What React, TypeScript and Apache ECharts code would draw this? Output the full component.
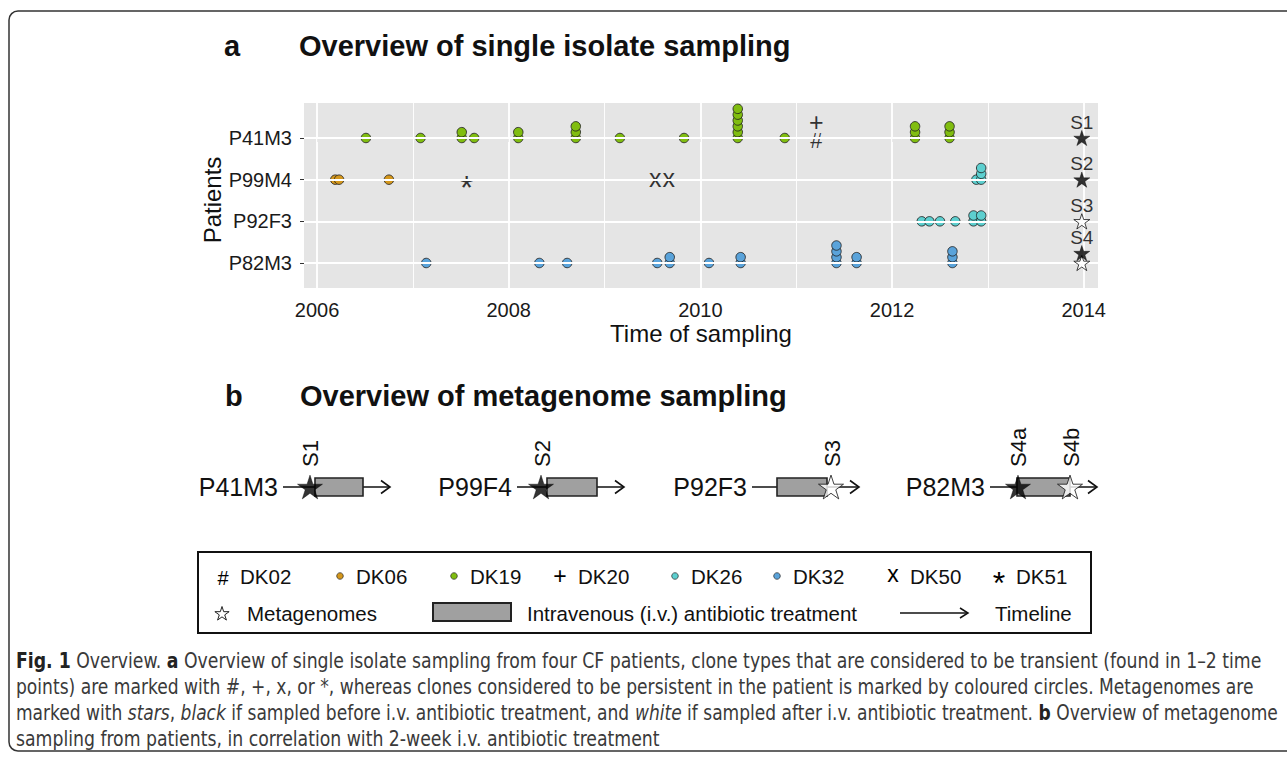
import React, { useEffect, useRef } from "react";
import * as echarts from "echarts";

// ---------------- Panel a data ----------------
const patientsA = ["P41M3", "P99M4", "P92F3", "P82M3"];
const yearTicks = [2006, 2008, 2010, 2012, 2014];
const yearMinor = [2007, 2009, 2011, 2013];

// persistent clones: [year, patient index, number of isolates at that time]
const dk19 = [
  [2006.51, 0, 1], [2007.08, 0, 1], [2007.51, 0, 2], [2007.64, 0, 1], [2008.1, 0, 2], [2008.7, 0, 3],
  [2009.16, 0, 1], [2009.83, 0, 1], [2010.39, 0, 6], [2010.88, 0, 1], [2012.24, 0, 3], [2012.6, 0, 3],
];
const dk06 = [[2006.19, 1, 1], [2006.23, 1, 1], [2006.75, 1, 1]];
const dk26 = [
  [2012.88, 1, 1], [2012.93, 1, 3],
  [2012.31, 2, 1], [2012.39, 2, 1], [2012.5, 2, 1], [2012.66, 2, 1], [2012.85, 2, 2], [2012.93, 2, 2],
];
const dk32 = [
  [2007.14, 3, 1], [2008.32, 3, 1], [2008.61, 3, 1], [2009.55, 3, 1], [2009.68, 3, 2],
  [2010.09, 3, 1], [2010.42, 3, 2], [2011.42, 3, 4], [2011.63, 3, 2], [2012.63, 3, 3],
];
// transient clones: [year, patient index, stack level]
const dk02 = [[2011.21, 0, 0]];
const dk20 = [[2011.21, 0, 2.7]];
const dk50 = [[2009.53, 1, 0], [2009.67, 1, 0]];
const dk51 = [[2007.56, 1, 0]];
// metagenomes: [year, patient index, stack level]
const metaA = [[2013.98, 0, 0], [2013.98, 1, 0], [2013.98, 2, 0], [2013.98, 3, 0], [2013.98, 3, 1.7]];
const metaALabels = ["S1", "S2", "S3", "", "S4"];
const metaAFilled = [true, true, false, false, true];

// ---------------- Panel b data (days) ----------------
const patientsB = ["P41M3", "P99F4", "P92F3", "P82M3"];
const timelineSpan = [0, 30];
const treatmentB = [[8.97, 22.43], [8.41, 22.43], [7.01, 21.03], [7.57, 22.43]];
const samplesB = [[7.57], [6.73], [22.15], [7.85, 22.43]];
const samplesBLabels = [["S1"], ["S2"], ["S3"], ["S4a", "S4b"]];
const samplesBFilled = [[true], [true], [false], [true, false]];

// ---------------- Legend & texts ----------------
const legendClones = ["DK02", "DK06", "DK19", "DK20", "DK26", "DK32", "DK50", "DK51"];
const legendOther = ["Metagenomes", "Intravenous (i.v.) antibiotic treatment", "Timeline"];
const titleA = ["a", "Overview of single isolate sampling"];
const titleB = ["b", "Overview of metagenome sampling"];
const axisTitles = ["Time of sampling", "Patients"];
const captionLines = [
  "{b|Fig. 1} Overview. {b|a} Overview of single isolate sampling from four CF patients, clone types that are considered to be transient (found in 1–2 time",
  "points) are marked with #, +, x, or *, whereas clones considered to be persistent in the patient is marked by coloured circles. Metagenomes are",
  "marked with {i|stars}, {i|black} if sampled before i.v. antibiotic treatment, and {i|white} if sampled after i.v. antibiotic treatment. {b|b} Overview of metagenome",
  "sampling from patients, in correlation with 2-week i.v. antibiotic treatment",
];

// ---------------- Styles / layout ----------------
const FONT = "'Liberation Sans', Arial, Helvetica, sans-serif";
const STEP = 0.14;
const cloneColors: Record<string, string> = {
  DK06: "#D4971C", DK19: "#80BD10", DK26: "#5DCFCF", DK32: "#5AA3DA",
};
const cloneGlyphs: Record<string, { ch: string; size: number; dy: number }> = {
  DK02: { ch: "#", size: 22, dy: 2 },
  DK20: { ch: "+", size: 25, dy: 0 },
  DK50: { ch: "x", size: 25, dy: -2 },
  DK51: { ch: "*", size: 34, dy: 7 },
};
const legendMarkerX = [223, 340, 454, 560, 675, 777, 893, 999];
const legendLabelX = [240, 356, 470, 578, 691, 793, 910, 1016];
const gridLeftB = [283, 517, 752, 990];
const captionRight = [1262, 1254, 1278, 0];
const STAR =
  "path://M50,0 L61.23,34.55 L97.55,34.55 L68.17,55.9 L79.39,90.45 L50,69.1 L20.61,90.45 L31.83,55.9 L2.45,34.55 L38.77,34.55 Z";

function expand(arr: number[][]) {
  const out: number[][] = [];
  arr.forEach(([y, p, n]) => {
    for (let k = 0; k < n; k++) out.push([y, p - k * STEP]);
  });
  return out;
}

function pickCaptionFont() {
  const ctx = document.createElement("canvas").getContext("2d")!;
  const test = "abcdefghijklmnopqrstuvwxyz ABCDEFGHIJKLMNOPQRSTUVWXYZ 0123456789";
  ctx.font = "20px monospace";
  const base = ctx.measureText(test).width;
  for (const f of ["Liberation Sans Narrow", "DejaVu Sans Condensed", "Open Sans Condensed"]) {
    ctx.font = `20px '${f}', monospace`;
    if (Math.abs(ctx.measureText(test).width - base) > 1) return `'${f}', sans-serif`;
  }
  return "'Liberation Sans', sans-serif";
}

function measureRich(line: string, size: number, family: string) {
  const ctx = document.createElement("canvas").getContext("2d")!;
  const re = /\{(\w)\|([^}]*)\}/g;
  let w = 0;
  let last = 0;
  let m: RegExpExecArray | null;
  while ((m = re.exec(line))) {
    ctx.font = `${size}px ${family}`;
    w += ctx.measureText(line.slice(last, m.index)).width;
    ctx.font = `${m[1] === "b" ? "bold" : "italic"} ${size}px ${family}`;
    w += ctx.measureText(m[2]).width;
    last = re.lastIndex;
  }
  ctx.font = `${size}px ${family}`;
  w += ctx.measureText(line.slice(last)).width;
  return w;
}

function starPoints(cx: number, cy: number, R: number) {
  const pts: number[][] = [];
  for (let k = 0; k < 10; k++) {
    const a = (-90 + 36 * k) * (Math.PI / 180);
    const r = k % 2 === 0 ? R : R * 0.382;
    pts.push([cx + r * Math.cos(a), cy + r * Math.sin(a)]);
  }
  return pts;
}

export default function App() {
  const ref = useRef<HTMLDivElement>(null);

  useEffect(() => {
    document.body.style.margin = "0";
    const chart = echarts.init(ref.current!, null, { renderer: "svg" });

    const grids: any[] = [
      { left: 304, top: 103, width: 794, height: 185, show: true, backgroundColor: "#E5E5E5", borderWidth: 0 },
    ];
    const xAxes: any[] = [
      {
        type: "value", gridIndex: 0, min: 2005.864, max: 2014.149,
        axisLine: { show: false },
        axisTick: { show: true, customValues: yearTicks, length: 4, lineStyle: { color: "#333", width: 1 } },
        axisLabel: {
          customValues: yearTicks, fontSize: 20, color: "#1a1a1a", margin: 12, fontFamily: FONT,
          formatter: (v: number) => String(Math.round(v)),
        },
        splitLine: { show: false },
      },
    ];
    const yAxes: any[] = [
      {
        type: "value", gridIndex: 0, inverse: true, min: -0.84, max: 3.6,
        axisLine: { show: false },
        axisTick: { show: true, customValues: [0, 1, 2, 3], length: 4, lineStyle: { color: "#333", width: 1 } },
        axisLabel: {
          customValues: [0, 1, 2, 3], fontSize: 20, color: "#1a1a1a", margin: 12, fontFamily: FONT,
          formatter: (v: number) => patientsA[Math.round(v)] ?? "",
        },
        splitLine: { show: false },
      },
    ];

    const major = { color: "#ffffff", width: 1.8, type: "solid" };
    const minor = { color: "#ffffff", width: 0.9, type: "solid" };
    const series: any[] = [
      {
        type: "scatter", xAxisIndex: 0, yAxisIndex: 0, data: [], silent: true, z: 1,
        markLine: {
          silent: true, symbol: ["none", "none"], label: { show: false }, animation: false,
          data: [
            ...yearMinor.map((v) => ({ xAxis: v, lineStyle: minor })),
            ...yearTicks.map((v) => ({ xAxis: v, lineStyle: major })),
            ...patientsA.map((_, i) => ({ yAxis: i, lineStyle: major })),
          ],
        },
      },
    ];

    const dotSeries: [string, number[][]][] = [
      ["DK19", dk19], ["DK06", dk06], ["DK26", dk26], ["DK32", dk32],
    ];
    dotSeries.forEach(([name, arr]) => {
      series.push({
        type: "scatter", name, xAxisIndex: 0, yAxisIndex: 0, z: 3,
        data: expand(arr), symbol: "circle", symbolSize: 9.5,
        itemStyle: { color: cloneColors[name], borderColor: "#1a1a1a", borderWidth: 0.8, opacity: 1 },
      });
    });

    const glyphSeries: [string, number[][]][] = [
      ["DK02", dk02], ["DK20", dk20], ["DK50", dk50], ["DK51", dk51],
    ];
    glyphSeries.forEach(([name, arr]) => {
      const g = cloneGlyphs[name];
      series.push({
        type: "scatter", name, xAxisIndex: 0, yAxisIndex: 0, z: 4,
        data: arr.map(([y, p, l]) => [y, p - l * STEP]),
        symbol: "circle", symbolSize: 2,
        itemStyle: { color: "rgba(0,0,0,0)", borderWidth: 0 },
        label: {
          show: true, position: "inside", formatter: g.ch, fontSize: g.size, color: "#000",
          fontFamily: FONT, offset: [0, g.dy],
        },
      });
    });

    series.push({
      type: "scatter", name: "Metagenomes", xAxisIndex: 0, yAxisIndex: 0, z: 5,
      symbol: STAR, symbolKeepAspect: true, symbolSize: 16,
      data: metaA.map(([y, p, l], i) => ({
        value: [y, p - l * STEP],
        itemStyle: metaAFilled[i]
          ? { color: "#000", borderColor: "#000", borderWidth: 0.5 }
          : { color: "#fff", borderColor: "#000", borderWidth: 0.9 },
      })),
      label: {
        show: true, position: "inside", offset: [0, -16], fontSize: 19, color: "#000", fontFamily: FONT,
        formatter: (p: any) => metaALabels[p.dataIndex],
      },
    });

    // Panel b: four small timelines
    patientsB.forEach((name, i) => {
      const gi = i + 1;
      grids.push({ left: gridLeftB[i], top: 477, width: 107, height: 20, show: false });
      xAxes.push({ type: "value", gridIndex: gi, min: timelineSpan[0], max: timelineSpan[1], show: false });
      yAxes.push({
        type: "category", gridIndex: gi, data: [name],
        axisLine: { show: false }, axisTick: { show: false }, splitLine: { show: false },
        axisLabel: { fontSize: 25, color: "#111", margin: 5, fontFamily: FONT },
      });
      series.push({
        type: "custom", xAxisIndex: gi, yAxisIndex: gi, clip: false, z: 2, silent: true,
        data: [[timelineSpan[0], 0, timelineSpan[1]]],
        renderItem: (params: any, api: any) => {
          const s = api.coord([api.value(0), api.value(1)]);
          const e = api.coord([api.value(2), api.value(1)]);
          return {
            type: "group",
            children: [
              { type: "line", shape: { x1: s[0], y1: s[1], x2: e[0], y2: e[1] }, style: { stroke: "#111", lineWidth: 1.6 } },
              {
                type: "polyline",
                shape: { points: [[e[0] - 9, e[1] - 6.5], [e[0], e[1]], [e[0] - 9, e[1] + 6.5]] },
                style: { stroke: "#111", lineWidth: 1.6, fill: null },
              },
            ],
          };
        },
      });
      series.push({
        type: "custom", xAxisIndex: gi, yAxisIndex: gi, clip: false, z: 3, silent: true,
        data: [[treatmentB[i][0], 0, treatmentB[i][1]]],
        renderItem: (params: any, api: any) => {
          const s = api.coord([api.value(0), api.value(1)]);
          const e = api.coord([api.value(2), api.value(1)]);
          return {
            type: "rect",
            shape: { x: s[0], y: s[1] - 9, width: e[0] - s[0], height: 18 },
            style: { fill: "#A0A0A0", stroke: "#222", lineWidth: 1.6 },
          };
        },
      });
      series.push({
        type: "scatter", xAxisIndex: gi, yAxisIndex: gi, z: 5, clip: false,
        symbol: STAR, symbolKeepAspect: true, symbolSize: 25,
        data: samplesB[i].map((d, k) => ({
          value: [d, 0],
          itemStyle: samplesBFilled[i][k]
            ? { color: "#000", borderColor: "#000", borderWidth: 0.5 }
            : { color: "#fff", borderColor: "#111", borderWidth: 1 },
        })),
      });
      series.push({
        type: "custom", xAxisIndex: gi, yAxisIndex: gi, clip: false, z: 6, silent: true,
        data: samplesB[i].map((d) => [d, 0]),
        renderItem: (params: any, api: any) => {
          const c = api.coord([api.value(0), api.value(1)]);
          return {
            type: "text", x: c[0] + 1, y: c[1] - 20, rotation: Math.PI / 2,
            style: {
              text: samplesBLabels[i][params.dataIndex], fontSize: 22, fontFamily: FONT, fill: "#111",
              align: "left", verticalAlign: "middle",
            },
          };
        },
      });
    });

    // Graphic elements: titles, axis titles, legend, caption, frame
    const capFont = pickCaptionFont();
    const capSize = 21;
    const scale0 = (captionRight[0] - 16) / measureRich(captionLines[0], capSize, capFont);
    const capY = [660.5, 686.5, 712.5, 738.5];

    const txt = (text: string, x: number, y: number, size: number, extra: any = {}) => ({
      type: "text", x, y, silent: true,
      style: { text, fontSize: size, fontFamily: FONT, fill: "#111", align: "left", verticalAlign: "middle", ...extra },
    });

    const elements: any[] = [
      {
        type: "rect", silent: true, z: 0,
        shape: { x: 9, y: 11, width: 1340, height: 740, r: 9 },
        style: { fill: "none", stroke: "#333", lineWidth: 1.5 },
      },
      txt(titleA[0], 224, 46, 29, { fontWeight: "bold" }),
      txt(titleA[1], 299, 46, 29, { fontWeight: "bold" }),
      txt(titleB[0], 225, 396, 29, { fontWeight: "bold" }),
      txt(titleB[1], 300, 396, 29, { fontWeight: "bold" }),
      txt(axisTitles[0], 701, 333, 24, { align: "center" }),
      { ...txt(axisTitles[1], 212, 200, 24, { align: "center" }), rotation: Math.PI / 2 },
      // legend box
      {
        type: "rect", silent: true, shape: { x: 198, y: 552, width: 893, height: 81 },
        style: { fill: "none", stroke: "#111", lineWidth: 2 },
      },
    ];
    legendClones.forEach((name, i) => {
      const mx = legendMarkerX[i];
      if (cloneColors[name]) {
        elements.push({
          type: "circle", silent: true, shape: { cx: mx, cy: 576, r: 3.3 },
          style: { fill: cloneColors[name], stroke: "#222", lineWidth: 0.7 },
        });
      } else {
        const g = cloneGlyphs[name];
        elements.push(txt(g.ch, mx, 576 + g.dy, g.size - 2, { align: "center", fill: "#000" }));
      }
      elements.push(txt(name, legendLabelX[i], 576, 20.5));
    });
    elements.push({
      type: "polygon", silent: true, shape: { points: starPoints(222, 614, 7.5) },
      style: { fill: "#fff", stroke: "#222", lineWidth: 1 },
    });
    elements.push(txt(legendOther[0], 247, 613.5, 20.5));
    elements.push({
      type: "rect", silent: true, shape: { x: 433, y: 603, width: 78, height: 18 },
      style: { fill: "#A0A0A0", stroke: "#222", lineWidth: 2 },
    });
    elements.push(txt(legendOther[1], 527, 613.5, 20.5));
    elements.push({
      type: "line", silent: true, shape: { x1: 900, y1: 613, x2: 968, y2: 613 },
      style: { stroke: "#111", lineWidth: 1.5 },
    });
    elements.push({
      type: "polyline", silent: true, shape: { points: [[960, 608], [968, 613], [960, 618]] },
      style: { stroke: "#111", lineWidth: 1.5, fill: null },
    });
    elements.push(txt(legendOther[2], 995, 613.5, 20.5));

    captionLines.forEach((line, i) => {
      const sx = captionRight[i] > 0 ? (captionRight[i] - 16) / measureRich(line, capSize, capFont) : scale0;
      elements.push({
        type: "text", x: 16, y: capY[i], scaleX: sx, silent: true,
        style: {
          text: line, fontSize: capSize, fontFamily: capFont, fill: "#3a3a3a", align: "left", verticalAlign: "middle",
          rich: {
            b: { fontWeight: "bold", fontSize: capSize, fontFamily: capFont, fill: "#222" },
            i: { fontStyle: "italic", fontSize: capSize, fontFamily: capFont, fill: "#3a3a3a" },
          },
        },
      });
    });

    chart.setOption({
      animation: false,
      backgroundColor: "#ffffff",
      textStyle: { fontFamily: FONT },
      grid: grids,
      xAxis: xAxes,
      yAxis: yAxes,
      series,
      graphic: { elements },
    });

    return () => chart.dispose();
  }, []);

  return <div ref={ref} style={{ width: 1287, height: 758 }} />;
}
